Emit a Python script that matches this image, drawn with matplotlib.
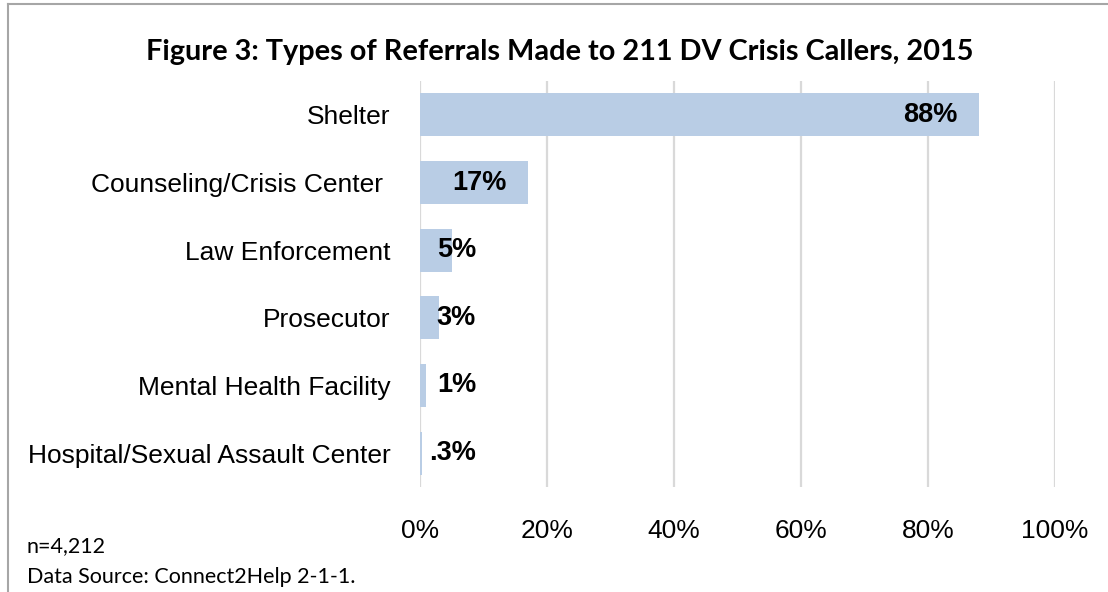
import matplotlib
matplotlib.use("Agg")
import matplotlib.pyplot as plt
from matplotlib.lines import Line2D
from matplotlib.ticker import FuncFormatter

categories = ["Shelter", "Counseling/Crisis Center ", "Law Enforcement", "Prosecutor",
              "Mental Health Facility", "Hospital/Sexual Assault Center"]
values = [0.88, 0.17, 0.05, 0.03, 0.01, 0.003]
value_labels = ["88%", "17%", "5%", "3%", "1%", ".3%"]
x_ticks = [0, 0.2, 0.4, 0.6, 0.8, 1.0]

title = "Figure 3: Types of Referrals Made to 211 DV Crisis Callers, 2015"
note1 = "n=4,212"
note2 = "Data Source: Connect2Help 2-1-1."

W, H = 1108, 592
fig = plt.figure(figsize=(W / 100, H / 100), dpi=100)
ax = fig.add_axes([420 / W, 1 - 487 / H, 635 / W, 406 / H])

ypos = list(range(len(categories)))
ax.barh(ypos, values, height=0.635, color="#B9CDE5", zorder=2)
ax.set_ylim(len(categories) - 0.5, -0.5)
ax.set_xlim(0, 1.0)
ax.set_yticks(ypos)
ax.set_yticklabels(categories, fontsize=19, fontfamily="Liberation Sans")
ax.set_xticks(x_ticks)
ax.xaxis.set_major_formatter(FuncFormatter(lambda v, p: f"{v * 100:.0f}%"))
for lab in ax.get_xticklabels():
    lab.set_fontsize(19)
    lab.set_fontfamily("Liberation Sans")
ax.tick_params(axis="y", length=0, pad=21)
ax.tick_params(axis="x", length=0, pad=23)
ax.grid(axis="x", color="#D9D9D9", linewidth=1.6, zorder=0)
for s in ax.spines.values():
    s.set_visible(False)

min_pos = 0.121
for i, (v, lab) in enumerate(zip(values, value_labels)):
    ax.annotate(lab, xy=(max(v, min_pos), i), xytext=(-15, 0), textcoords="offset points",
                ha="right", va="center", fontsize=19.5, fontweight="bold",
                fontfamily="Liberation Sans", color="black", zorder=3)

fig.text(560 / W, 1 - 52 / H, title, ha="center", va="center", fontsize=20.8,
         fontweight="bold", fontfamily="Lato")
fig.text(27 / W, 1 - 546 / H, note1, ha="left", va="center", fontsize=15.5, fontfamily="Lato")
fig.text(27 / W, 1 - 577 / H, note2, ha="left", va="center", fontsize=15.5, fontfamily="Lato")

# frame
fig.add_artist(Line2D([8 / W, 8 / W], [0, 1 - 4 / H], transform=fig.transFigure,
                      color="#A6A6A6", linewidth=1.5))
fig.add_artist(Line2D([8 / W, 1], [1 - 4 / H, 1 - 4 / H], transform=fig.transFigure,
                      color="#A6A6A6", linewidth=1.5))

fig.savefig("out.png", dpi=100)
